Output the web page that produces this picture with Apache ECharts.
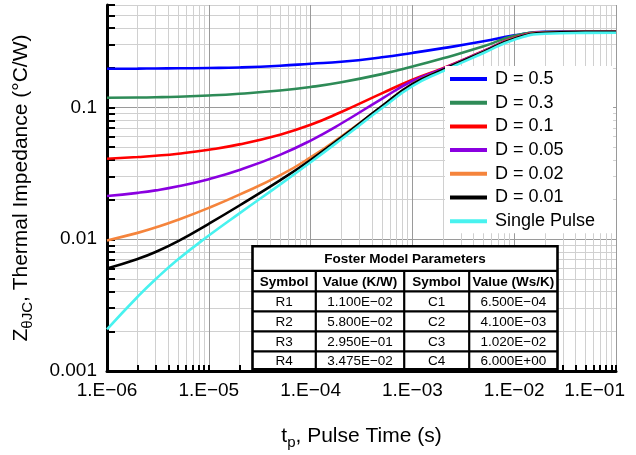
<!DOCTYPE html>
<html>
<head>
<meta charset="utf-8">
<script src="https://cdn.jsdelivr.net/npm/echarts@6/dist/echarts.min.js"></script>
<style>
html,body{margin:0;padding:0;background:#fff;}
#c{width:636px;height:455px;}
</style>
</head>
<body>
<div id="c"></div>
<script>
// ---- data ----
const pulseTimes = [1e-6, 2e-6, 3e-6, 5e-6, 1e-5, 2e-5, 5e-5, 1e-4, 2e-4, 5e-4, 1e-3, 2e-3, 5e-3, 1e-2, 2e-2, 5e-2, 1e-1];
const seriesNames = ['D = 0.5', 'D = 0.3', 'D = 0.1', 'D = 0.05', 'D = 0.02', 'D = 0.01', 'Single Pulse'];
const zD05 = [0.197, 0.1975, 0.198, 0.1985, 0.1995, 0.2015, 0.2075, 0.215, 0.2226, 0.2406, 0.2597, 0.2822, 0.3179, 0.3527, 0.376, 0.378, 0.378];
const zD03 = [0.1186, 0.1190, 0.1196, 0.1208, 0.1234, 0.1273, 0.1345, 0.1431, 0.1555, 0.1793, 0.2045, 0.2365, 0.2915, 0.350, 0.374, 0.377, 0.377];
const zD01 = [0.0408, 0.0421, 0.0430, 0.0446, 0.0478, 0.0525, 0.0622, 0.0739, 0.0925, 0.128, 0.1625, 0.199, 0.2685, 0.338, 0.373, 0.376, 0.376];
const zD005 = [0.0213, 0.02251, 0.02349, 0.02524, 0.02859, 0.03353, 0.04374, 0.05615, 0.07563, 0.1164, 0.1589, 0.197, 0.268, 0.337, 0.372, 0.376, 0.376];
const zD002 = [0.0098, 0.01118, 0.01227, 0.01405, 0.0173, 0.0218, 0.0305, 0.0418, 0.0603, 0.1018, 0.1512, 0.194, 0.265, 0.335, 0.3705, 0.375, 0.376];
const zD001 = [0.0060, 0.00709, 0.0080, 0.00967, 0.01311, 0.01804, 0.0280, 0.0400, 0.0592, 0.1020, 0.1505, 0.1935, 0.2645, 0.3325, 0.369, 0.375, 0.376];
const zSingle = [0.00207, 0.00366, 0.00497, 0.00704, 0.01067, 0.01573, 0.0260, 0.0384, 0.0574, 0.0986, 0.1453, 0.1891, 0.2592, 0.3274, 0.3633, 0.3683, 0.369];
const seriesColors = ['#0000ff', '#2e8b57', '#ff0000', '#8a00e0', '#f5843c', '#000000', '#48f2ef'];

const xTickValues = [1e-6, 1e-5, 1e-4, 1e-3, 1e-2, 1e-1];
const xTickLabels = ['1.E\u221206', '1.E\u221205', '1.E\u221204', '1.E\u221203', '1.E\u221202', '1.E\u221201'];
const yTickValues = [0.001, 0.01, 0.1];
const yTickLabels = ['0.001', '0.01', '0.1'];

const tableTitle = 'Foster Model Parameters';
const tableHeaders = ['Symbol', 'Value (K/W)', 'Symbol', 'Value (Ws/K)'];
const rSymbols = ['R1', 'R2', 'R3', 'R4'];
const rValues = ['1.100E\u221202', '5.800E\u221202', '2.950E\u221201', '3.475E\u221202'];
const cSymbols = ['C1', 'C2', 'C3', 'C4'];
const cValues = ['6.500E\u221204', '4.100E\u221203', '1.020E\u221202', '6.000E+00'];

// ---- helpers ----
const FONT = '"Liberation Sans", Arial, Helvetica, sans-serif';
function logTicks(fromExp, toExp, lastMax) {
  const out = [];
  for (let e = fromExp; e <= toExp; e++) {
    for (let m = 1; m <= 9; m++) {
      const v = Number(m + 'e' + e);
      if (v <= lastMax + 1e-12) out.push(v);
    }
  }
  return out;
}
function labelFor(values, labels, lastRich) {
  return function (v) {
    let best = 0, bd = Infinity;
    values.forEach((t, i) => { const d = Math.abs(Math.log10(v) - Math.log10(t)); if (d < bd) { bd = d; best = i; } });
    if (lastRich && best === values.length - 1) return '{last|' + labels[best] + '}';
    return labels[best];
  };
}
const xAllTicks = logTicks(-6, -1, 0.1);
const yAllTicks = logTicks(-3, -1, 0.6);
const majorCol = '#9a9a9a', minorCol = '#d0d0d0';
const gridColors = [majorCol, minorCol, minorCol, minorCol, minorCol, minorCol, minorCol, minorCol, minorCol];

const allSeries = [zD05, zD03, zD01, zD005, zD002, zD001, zSingle];

// ---- table graphic ----
const TX = 250, TY = 245, TW = 305;
const colX = [0, 63.3, 151.7, 216.7, 305];
const rowY = [0, 24.5, 45, 65, 85, 105, 123];
const TZ = 100;
const tableEls = [];
tableEls.push({ type: 'rect', z: TZ, shape: { x: 0, y: 0, width: TW, height: rowY[6] }, style: { fill: '#fff', stroke: '#000', lineWidth: 2.6 } });
for (let r = 1; r <= 5; r++) {
  tableEls.push({ type: 'line', z: TZ + 1, shape: { x1: 0, y1: rowY[r], x2: TW, y2: rowY[r] }, style: { stroke: '#000', lineWidth: 2.2 } });
}
for (let c = 1; c <= 3; c++) {
  tableEls.push({ type: 'line', z: TZ + 1, shape: { x1: colX[c], y1: rowY[1], x2: colX[c], y2: rowY[6] }, style: { stroke: '#000', lineWidth: 2.2 } });
}
function cellText(text, c, r, bold) {
  return { type: 'text', z: TZ + 2, style: { text: text, x: (colX[c] + colX[c + 1]) / 2, y: (rowY[r] + rowY[r + 1]) / 2 + 1, align: 'center', verticalAlign: 'middle', fontSize: 13.5, fontWeight: bold ? 'bold' : 'normal', fontFamily: FONT, fill: '#000' } };
}
tableEls.push({ type: 'text', z: TZ + 2, style: { text: tableTitle, x: TW / 2, y: rowY[1] / 2 + 1, align: 'center', verticalAlign: 'middle', fontSize: 13.5, fontWeight: 'bold', fontFamily: FONT, fill: '#000' } });
tableHeaders.forEach((h, i) => tableEls.push(cellText(h, i, 1, true)));
for (let i = 0; i < 4; i++) {
  tableEls.push(cellText(rSymbols[i], 0, i + 2, false));
  tableEls.push(cellText(rValues[i], 1, i + 2, false));
  tableEls.push(cellText(cSymbols[i], 2, i + 2, false));
  tableEls.push(cellText(cValues[i], 3, i + 2, false));
}

const chart = echarts.init(document.getElementById('c'), null, { renderer: 'canvas' });
chart.setOption({
  animation: false,
  backgroundColor: '#fff',
  grid: { left: 107, right: 20, top: 5, bottom: 84, containLabel: false },
  xAxis: {
    type: 'log', logBase: 10, min: 1e-6, max: 0.1,
    name: '{m|t}{s|p}{m|, Pulse Time (s)}',
    nameLocation: 'middle', nameGap: 55,
    nameTextStyle: { fontFamily: FONT, color: '#000', rich: {
      m: { fontSize: 21, fontFamily: FONT, color: '#000', lineHeight: 24, verticalAlign: 'top' },
      s: { fontSize: 15, fontFamily: FONT, color: '#000', verticalAlign: 'bottom' } } },
    axisLine: { show: true, onZero: false, lineStyle: { color: '#000', width: 3 } },
    axisTick: { show: true, inside: true, length: 6, customValues: xAllTicks, lineStyle: { color: '#000', width: 2 } },
    axisLabel: { customValues: xTickValues, formatter: labelFor(xTickValues, xTickLabels, true), fontSize: 19, fontFamily: FONT, color: '#000', margin: 10, alignMaxLabel: 'right',
      rich: { last: { fontSize: 19, fontFamily: FONT, color: '#000', padding: [0, -9, 0, 0] } } },
    minorTick: { show: false },
    splitLine: { show: true, lineStyle: { color: gridColors, width: 1 } }
  },
  yAxis: {
    type: 'log', logBase: 10, min: 0.001, max: 0.6,
    name: '{m|Z}{s|\u03b8JC}{m|, Thermal Impedance (\u00b0C/W)}',
    nameLocation: 'middle', nameGap: 72,
    nameTextStyle: { fontFamily: FONT, color: '#000', rich: {
      m: { fontSize: 21, fontFamily: FONT, color: '#000', lineHeight: 24, verticalAlign: 'top' },
      s: { fontSize: 15, fontFamily: FONT, color: '#000', verticalAlign: 'bottom' } } },
    axisLine: { show: true, onZero: false, lineStyle: { color: '#000', width: 3 } },
    axisTick: { show: true, inside: true, length: 8, customValues: yAllTicks, lineStyle: { color: '#000', width: 2 } },
    axisLabel: { customValues: yTickValues, formatter: labelFor(yTickValues, yTickLabels, false), fontSize: 19, fontFamily: FONT, color: '#000', margin: 10 },
    minorTick: { show: false },
    splitLine: { show: true, lineStyle: { color: gridColors, width: 1 } }
  },
  legend: {
    orient: 'vertical', left: 445, top: 66,
    padding: [4, 18, 3, 5],
    backgroundColor: '#fff', borderWidth: 0,
    icon: 'rect', itemWidth: 37, itemHeight: 4, itemGap: 5.7,
    textStyle: { fontSize: 18, lineHeight: 18, fontFamily: FONT, color: '#000', padding: [0, 0, 0, 3] },
    data: seriesNames
  },
  series: allSeries.map((arr, i) => ({
    name: seriesNames[i],
    type: 'line',
    smooth: 0.5,
    showSymbol: false,
    symbol: 'none',
    color: seriesColors[i],
    lineStyle: { color: seriesColors[i], width: 2.6 },
    data: pulseTimes.map((t, k) => [t, arr[k]]),
    z: 3
  })),
  graphic: [{ type: 'group', left: TX, top: TY, z: TZ, children: tableEls }]
});
</script>
</body>
</html>
